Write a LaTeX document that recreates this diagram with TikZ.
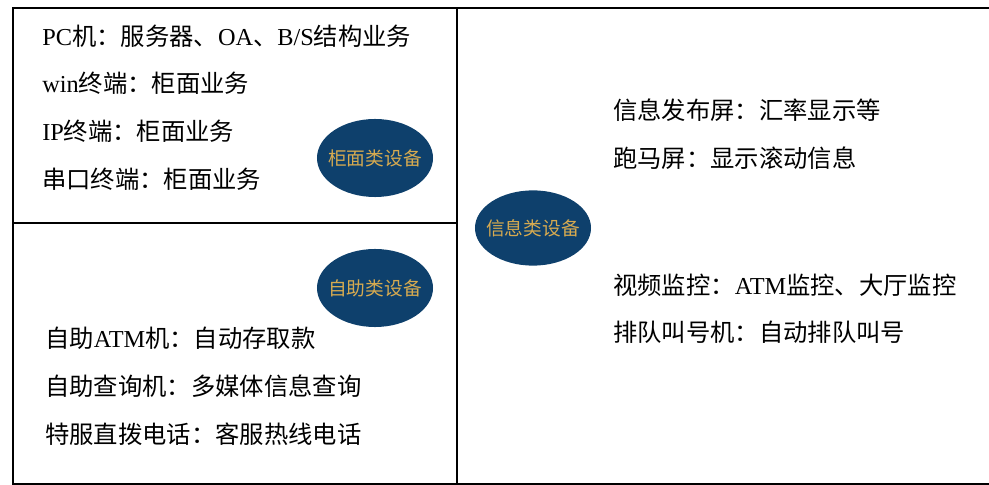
\documentclass[tikz,border=0pt]{standalone}
\usepackage{fontspec}
\setmainfont{Liberation Serif}
\newfontfamily\cjk{Noto Sans CJK SC}
\newfontfamily\lat{Liberation Serif}
\usetikzlibrary{shapes.geometric}
\definecolor{devblue}{RGB}{14,64,108}
\definecolor{devgold}{RGB}{214,170,80}
\tikzset{
    item/.style={anchor=west, inner sep=0pt, font=\cjk\fontsize{17.3}{19}\selectfont},
    group/.style={ellipse, fill=devblue, text=devgold, inner ysep=0pt, inner xsep=-10pt,
        minimum width=2.9cm, minimum height=1.95cm, font=\cjk\fontsize{13.3}{15}\selectfont},
    frame/.style={line width=1.3pt}
}
\begin{document}
\begin{tikzpicture}[x=0.025cm, y=-0.025cm]
    \useasboundingbox (0,0) rectangle (989,485);

    \coordinate (tl) at (13,8);
    \coordinate (tr) at (989,8);
    \coordinate (bl) at (13,484);
    \coordinate (br) at (989,484);
    \coordinate (mt) at (457,8);
    \coordinate (mb) at (457,484);
    \coordinate (hl) at (13,223);
    \coordinate (hr) at (457,223);

    \node[item] (pc) at (42,36) {{\lat PC}机：服务器、{\lat OA}、{\lat B/S}结构业务};
    \node[item] (win) at (42,83) {{\lat win}终端：柜面业务};
    \node[item] (ip) at (42,131) {{\lat IP}终端：柜面业务};
    \node[item] (com) at (42,179) {串口终端：柜面业务};

    \node[item] (atm) at (45,338) {自助{\lat ATM}机：自动存取款};
    \node[item] (query) at (45,386) {自助查询机：多媒体信息查询};
    \node[item] (phone) at (45,434) {特服直拨电话：客服热线电话};

    \node[item] (board) at (613,110) {信息发布屏：汇率显示等};
    \node[item] (led) at (613,158) {跑马屏：显示滚动信息};
    \node[item] (video) at (613,285) {视频监控：{\lat ATM}监控、大厅监控};
    \node[item] (queue) at (613,332) {排队叫号机：自动排队叫号};

    \node[group] (counter) at (375,158) {柜面类设备};
    \node[group] (self) at (375,288) {自助类设备};
    \node[group, minimum height=1.88cm] (info) at (533,228) {信息类设备};

    \draw[frame] (tr) -- (tl) -- (bl) -- (br);
    \draw[frame] (mt) -- (mb);
    \draw[frame] (hl) -- (hr);

\end{tikzpicture}
\end{document}
